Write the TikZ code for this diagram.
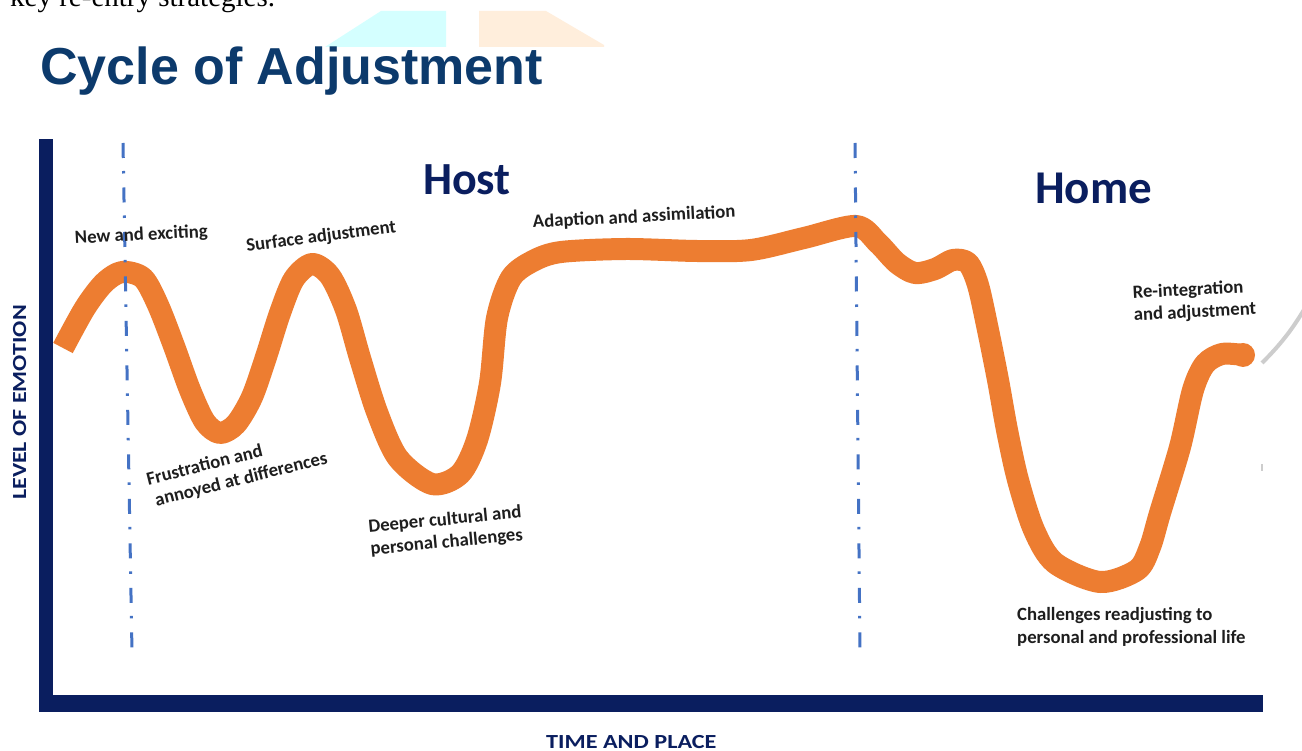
\documentclass[tikz,border=0pt]{standalone}
\usepackage{fontspec}
\usepackage{graphicx}
\setmainfont{Carlito}
\newfontfamily\titlefont{Liberation Sans}
\newfontfamily\seriffont{Liberation Serif}
\definecolor{titleblue}{RGB}{12,58,108}
\definecolor{navyc}{RGB}{10,30,95}
\definecolor{orangec}{RGB}{237,125,49}
\definecolor{dashblue}{RGB}{68,114,196}
\definecolor{labelc}{RGB}{30,30,30}
\definecolor{cyanbg}{RGB}{212,255,255}
\definecolor{peachbg}{RGB}{255,238,220}
\definecolor{arcgray}{RGB}{205,205,205}
\begin{document}
\begin{tikzpicture}[x=1pt,y=-1pt,
  lbl/.style={font=\bfseries\fontsize{18.7}{22.5}\selectfont, text=labelc, inner sep=0pt, anchor=base west, align=left},
  region/.style={font=\bfseries\fontsize{46}{50}\selectfont, text=navyc, inner sep=0pt, anchor=base west},
  axislbl/.style={font=\bfseries\fontsize{20}{24}\selectfont, text=navyc, inner sep=0pt, anchor=base west},
  dashdot/.style={draw=dashblue, line width=3pt, dash pattern=on 15pt off 13pt on 2.5pt off 14pt},
  curve/.style={draw=orangec, line width=22pt, line join=round, line cap=butt}]
\useasboundingbox (0,0) rectangle (1302,751);
\fill[white] (0,0) rectangle (1302,751);
% faint background shapes
\fill[cyanbg] (381,11) -- (446,11) -- (446,47) -- (325,47) -- cycle;
\fill[peachbg] (479,11) -- (546,11) -- (604,45) -- (604,47) -- (479,47) -- cycle;
% top text and title
\node[anchor=base west, inner sep=0pt, font=\seriffont\fontsize{29}{32}\selectfont] (intro) at (10,7) {key re-entry strategies.};
\node[anchor=base west, inner sep=0pt, font=\titlefont\bfseries\fontsize{52}{60}\selectfont, text=titleblue] (title) at (40,85) {Cycle of Adjustment};
% axes
\fill[navyc] (39,139) rectangle (53,712);
\fill[navyc] (39,695) rectangle (1263,712);
\node[axislbl, rotate=90] (ylab) at (26,500) {\scalebox{1.2}[1]{LEVEL OF EMOTION}};
\node[axislbl] (xlab) at (546,748.5) {\scalebox{1.21}[1]{TIME AND PLACE}};
% region titles
\node[region] (host) at (423,195) {Host};
\node[region, font=\bfseries\fontsize{47}{50}\selectfont] (home) at (1035,204) {Home};
% orange curve
\draw[curve] plot[smooth, tension=0.5] coordinates {(63,348) (85,308) (104,283) (122,272) (143,278) (158,305) (174,346) (190,390) (205,422) (220,433) (236,424) (252,397) (266,357) (280,313) (294,279) (312,264) (330,276) (346,310) (360,358) (377,412) (398,458) (432,484) (460,474) (477,440) (490,383) (497,318) (511,278) (533,261) (561,252) (626,249) (697,251) (751,250) (804,238) (856,226) (878,243) (897,263) (915,273) (935,269) (953,260) (968,263) (978,285) (988,330) (998,380) (1007,430) (1018,480) (1034,530) (1055,563) (1100,582) (1137,570) (1150,547) (1160,513) (1180,447) (1193,390) (1205,364) (1222,354) (1243,355)};
\coordinate (cend) at (1243,355);
\fill[orangec] (cend) circle (12pt);
% dash-dot separators
\coordinate (d1t) at (123,143);
\coordinate (d1b) at (132,652);
\coordinate (d2t) at (855,143);
\coordinate (d2b) at (860,652);
\draw[dashdot] (d1t) -- (d1b);
\draw[dashdot] (d2t) -- (d2b);
% labels (base west = baseline of the last line)
\node[lbl, rotate=3] (lnew) at (75,244) {New and exciting};
\node[lbl, rotate=7.5] (lsurf) at (247,252) {Surface adjustment};
\node[lbl, rotate=14] (lfrus) at (153.5,507) {Frustration and\\\hspace{3pt}annoyed at differences};
\node[lbl, rotate=5.5] (ldeep) at (371,555) {Deeper cultural and\\personal challenges};
\node[lbl, rotate=3] (ladapt) at (533,228) {Adaption and assimilation};
\node[lbl, rotate=3] (lre) at (1134,321) {Re-integration\\and adjustment};
\node[lbl] (lch) at (1017,643) {Challenges readjusting to\\personal and professional life};
% faint edge marks at right
\coordinate (ga) at (1262,363);
\coordinate (gb) at (1305,308);
\draw[arcgray, line width=4pt] (ga) .. controls (1280,345) and (1292,330) .. (gb);
\coordinate (gm1) at (1262,464);
\coordinate (gm2) at (1262,471);
\draw[arcgray, line width=2pt] (gm1) -- (gm2);
\end{tikzpicture}
\end{document}
